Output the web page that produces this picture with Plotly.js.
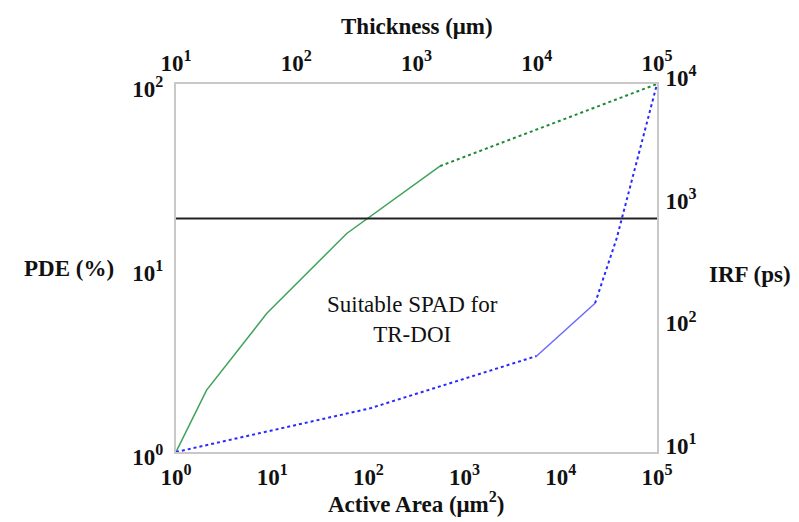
<!DOCTYPE html>
<html>
<head>
<meta charset="utf-8">
<script src="https://cdn.plot.ly/plotly-3.0.1.min.js"></script>
<style>html,body{margin:0;padding:0;background:#fff;}#chart{width:799px;height:522px;}</style>
</head>
<body>
<div id="chart"></div>
<script>
// Green curve: PDE (%) vs Active Area (µm²)
const pdeArea = [1, 2.08, 8.8, 59.5, 555, 100000];
const pdeValue = [1, 2.17, 5.67, 15.4, 35.8, 100];
// Blue curve: IRF (ps) vs Active Area (µm²)
const irfArea = [1, 104, 5610, 22700, 38100, 100000];
const irfValue = [10, 22.7, 60.6, 163, 552, 10000];
// Threshold line (IRF, ps)
const thresholdIRF = 800;
const thresholdX = [1, 100000];
// Tick labels
const areaTicks = [1, 10, 100, 1000, 10000, 100000];
const areaTickText = ['<b>10<sup>0</sup></b>', '<b>10<sup>1</sup></b>', '<b>10<sup>2</sup></b>', '<b>10<sup>3</sup></b>', '<b>10<sup>4</sup></b>', '<b>10<sup>5</sup></b>'];
const thickTicks = [10, 100, 1000, 10000, 100000];
const thickTickText = ['<b>10<sup>1</sup></b>', '<b>10<sup>2</sup></b>', '<b>10<sup>3</sup></b>', '<b>10<sup>4</sup></b>', '<b>10<sup>5</sup></b>'];
const pdeTicks = [1, 10, 100];
const pdeTickText = ['<b>10<sup>0</sup></b>', '<b>10<sup>1</sup></b>', '<b>10<sup>2</sup></b>'];
const irfTicks = [10, 100, 1000, 10000];
const irfTickText = ['<b>10<sup>1</sup></b>', '<b>10<sup>2</sup></b>', '<b>10<sup>3</sup></b>', '<b>10<sup>4</sup></b>'];

const serif = 'Liberation Serif';
const tickFont = {family: serif, size: 23, color: '#111'};
const titleFont = {family: serif, size: 23, color: '#111'};

const traces = [
  {x: pdeArea.slice(0, 5), y: pdeValue.slice(0, 5), xaxis: 'x', yaxis: 'y', mode: 'lines',
   line: {color: '#3fa35a', width: 1.5}, hoverinfo: 'skip'},
  {x: pdeArea.slice(4), y: pdeValue.slice(4), xaxis: 'x', yaxis: 'y', mode: 'lines',
   line: {color: '#1f8a3a', width: 2, dash: 'dot'}, hoverinfo: 'skip'},
  {x: irfArea.slice(0, 3), y: irfValue.slice(0, 3), xaxis: 'x', yaxis: 'y2', mode: 'lines',
   line: {color: '#2a2aff', width: 2, dash: 'dot'}, hoverinfo: 'skip'},
  {x: irfArea.slice(2, 4), y: irfValue.slice(2, 4), xaxis: 'x', yaxis: 'y2', mode: 'lines',
   line: {color: '#6a6aff', width: 1.5}, hoverinfo: 'skip'},
  {x: irfArea.slice(3), y: irfValue.slice(3), xaxis: 'x', yaxis: 'y2', mode: 'lines',
   line: {color: '#2a2aff', width: 2, dash: 'dot'}, hoverinfo: 'skip'},
  {x: thresholdX, y: [thresholdIRF, thresholdIRF], xaxis: 'x', yaxis: 'y2', mode: 'lines',
   line: {color: '#222', width: 2}, hoverinfo: 'skip'},
  // invisible carrier so the top Thickness axis is drawn
  {x: thickTicks, y: thickTicks.map(() => null), xaxis: 'x2', yaxis: 'y', mode: 'lines',
   line: {width: 0}, hoverinfo: 'skip'}
];

const layout = {
  width: 799, height: 522,
  margin: {l: 176, r: 142, t: 84, b: 70},
  paper_bgcolor: '#fff', plot_bgcolor: '#fff',
  showlegend: false,
  xaxis: {type: 'log', range: [0, 5], tickvals: areaTicks, ticktext: areaTickText,
    tickfont: tickFont, showgrid: false, zeroline: false, showline: true, linecolor: '#c8c8c8', linewidth: 2,
    ticks: '', ticklabelstandoff: 3, automargin: false},
  xaxis2: {type: 'log', range: [1, 5], overlaying: 'x', side: 'top', anchor: 'y', tickvals: thickTicks, ticktext: thickTickText,
    tickfont: tickFont, showgrid: false, zeroline: false, showline: true, linecolor: '#c8c8c8', linewidth: 2,
    ticks: '', ticklabelstandoff: 2, automargin: false},
  yaxis: {type: 'log', range: [0, 2], tickvals: pdeTicks, ticktext: pdeTickText,
    tickfont: tickFont, showgrid: false, zeroline: false, showline: true, linecolor: '#c8c8c8', linewidth: 2,
    ticks: '', ticklabelstandoff: 6, ticklabelshift: 5, automargin: false},
  yaxis2: {type: 'log', range: [1, 4], overlaying: 'y', side: 'right', anchor: 'x', tickvals: irfTicks, ticktext: irfTickText,
    tickfont: tickFont, showgrid: false, zeroline: false, showline: true, linecolor: '#c8c8c8', linewidth: 2,
    ticks: '', ticklabelstandoff: 2, ticklabelshift: -6, automargin: false},
  annotations: [
    {text: '<b>Thickness (μm)</b>', xref: 'paper', yref: 'paper', x: 0.5, y: 1, yshift: 58, xanchor: 'center', yanchor: 'middle', showarrow: false, font: titleFont},
    {text: '<b>Active Area (μm<sup>2</sup>)</b>', xref: 'paper', yref: 'paper', x: 0.5, y: 0, yshift: -50, xanchor: 'center', yanchor: 'middle', showarrow: false, font: titleFont},
    {text: '<b>PDE (%)</b>', xref: 'paper', yref: 'paper', x: 0, y: 0.5, xshift: -107, yshift: 0, xanchor: 'center', yanchor: 'middle', showarrow: false, font: titleFont},
    {text: '<b>IRF (ps)</b>', xref: 'paper', yref: 'paper', x: 1, y: 0.5, xshift: 93, yshift: -6, xanchor: 'center', yanchor: 'middle', showarrow: false, font: titleFont},
    {text: 'Suitable SPAD for<br>TR-DOI', xref: 'paper', yref: 'paper', x: 0.491, y: 0.36, xanchor: 'center', yanchor: 'middle', showarrow: false,
     font: {family: serif, size: 23, color: '#111'}}
  ]
};

Plotly.newPlot('chart', traces, layout, {displayModeBar: false, staticPlot: true});
</script>
</body>
</html>
